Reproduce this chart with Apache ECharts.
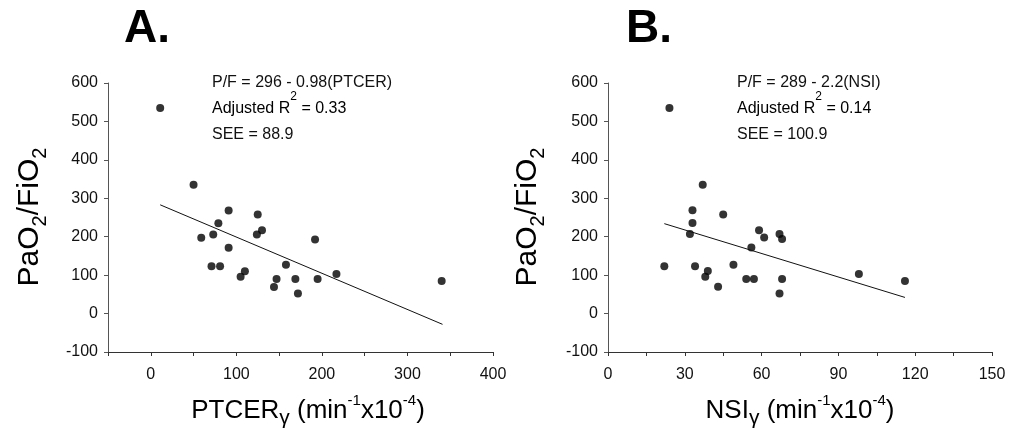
<!DOCTYPE html>
<html>
<head>
<meta charset="utf-8">
<script src="https://cdn.jsdelivr.net/npm/echarts@6/dist/echarts.min.js"></script>
<style>
html,body{margin:0;padding:0;background:#fff;}
#c{width:1018px;height:435px;}
</style>
</head>
<body>
<div id="c"></div>
<script>
// Panel A: PTCER gamma vs PaO2/FiO2
const ptcerX = [11, 50, 59, 73, 79, 91, 91, 71, 81, 105, 110, 125, 124, 130, 158, 144, 147, 169, 172, 192, 195, 217, 340];
const ptcerY = [535, 335, 197, 206, 235, 268, 171, 123, 123, 96, 110, 258, 206, 217, 127, 69, 90, 90, 52, 193, 90, 103, 85];
const fitA = [[11, 283], [341, -28]];
// Panel B: NSI gamma vs PaO2/FiO2
const nsiX = [24, 37, 33, 33, 32, 45, 22, 34, 39, 38, 43, 49, 56, 54, 57, 59, 61, 67, 68, 68, 67, 98, 116];
const nsiY = [535, 335, 269, 236, 207, 258, 123, 123, 111, 96, 70, 127, 172, 90, 90, 217, 198, 207, 194, 90, 52, 103, 85];
const fitB = [[22, 234], [116, 42]];
// Axis settings / tick labels
const yTicks = { min: -100, max: 600, interval: 100 };
const xTicksA = { min: -50, max: 400, interval: 50, labelStep: 100 };
const xTicksB = { min: 0, max: 150, interval: 15, labelStep: 30 };
const annA = ['P/F = 296 - 0.98(PTCER)', 'Adjusted R', '2', ' = 0.33', 'SEE = 88.9'];
const annB = ['P/F = 289 - 2.2(NSI)', 'Adjusted R', '2', ' = 0.14', 'SEE = 100.9'];

const FONT = 'Liberation Sans, Arial, sans-serif';
const AX = '#333';

function xAxis(gi, t) {
  return {
    type: 'value', gridIndex: gi, min: t.min, max: t.max, interval: t.interval,
    axisLine: { show: true, onZero: false, lineStyle: { color: AX, width: 1 } },
    axisTick: { show: true, inside: false, length: 4, lineStyle: { color: AX } },
    splitLine: { show: false },
    axisLabel: {
      show: true, margin: 15, color: '#111', fontFamily: FONT, fontSize: 16,
      showMinLabel: true, showMaxLabel: true,
      formatter: v => (Math.round(v) % t.labelStep === 0 ? String(Math.round(v)) : '')
    }
  };
}
function yAxis(gi) {
  return {
    type: 'value', gridIndex: gi, min: yTicks.min, max: yTicks.max, interval: yTicks.interval,
    axisLine: { show: true, onZero: false, lineStyle: { color: '#555', width: 1 } },
    axisTick: { show: true, inside: false, length: 4, lineStyle: { color: '#555' } },
    splitLine: { show: false },
    axisLabel: { show: true, margin: 10, color: '#111', fontFamily: FONT, fontSize: 16 }
  };
}
function pts(xs, ys) { return xs.map((x, i) => [x, ys[i]]); }

const rich = {
  t: { fontFamily: FONT, fontSize: 16, color: '#111', lineHeight: 36 },
  sp: { fontFamily: FONT, fontSize: 16, color: '#111', lineHeight: 36, width: 4 },
  sup: { fontFamily: FONT, fontSize: 12, color: '#111', lineHeight: 12, verticalAlign: 'top' }
};
function annot(x, a) {
  return [
    { type: 'text', x: x, y: 83, style: { text: a[0], fontFamily: FONT, fontSize: 16, fill: '#111', align: 'left', verticalAlign: 'middle' } },
    { type: 'text', x: x, y: 109, style: { text: '{t|' + a[1] + '}{sup|' + a[2] + '}{t|' + a[3] + '}', rich: rich, align: 'left', verticalAlign: 'middle' } },
    { type: 'text', x: x, y: 135, style: { text: a[4], fontFamily: FONT, fontSize: 16, fill: '#111', align: 'left', verticalAlign: 'middle' } }
  ];
}
const yTitleRich = {
  a: { fontFamily: FONT, fontSize: 30, color: '#111', lineHeight: 40 },
  s: { fontFamily: FONT, fontSize: 20, color: '#111', lineHeight: 20, verticalAlign: 'bottom' }
};
const xTitleRich = {
  a: { fontFamily: FONT, fontSize: 26, color: '#111', lineHeight: 36 },
  g: { fontFamily: FONT, fontSize: 21, color: '#111', lineHeight: 31, verticalAlign: 'bottom' },
  p: { fontFamily: FONT, fontSize: 15, color: '#111', lineHeight: 15, verticalAlign: 'top' }
};
function yTitle(x) {
  return { type: 'text', x: x, y: 217, rotation: Math.PI / 2,
    style: { text: '{a|PaO}{s|2}{a|/FiO}{s|2}', rich: yTitleRich, align: 'center', verticalAlign: 'middle' } };
}
function xTitle(x, name) {
  return { type: 'text', x: x, y: 411,
    style: { text: '{a|' + name + '}{g|γ}{a| (min}{p|-1}{a|x10}{p|-4}{a|)}', rich: xTitleRich, align: 'center', verticalAlign: 'middle' } };
}

const chart = echarts.init(document.getElementById('c'), null, { renderer: 'canvas' });
chart.setOption({
  backgroundColor: '#fff',
  animation: false,
  grid: [
    { left: 108, top: 83, width: 385, height: 269, containLabel: false },
    { left: 608, top: 83, width: 384, height: 269, containLabel: false }
  ],
  xAxis: [xAxis(0, xTicksA), xAxis(1, xTicksB)],
  yAxis: [yAxis(0), yAxis(1)],
  series: [
    { type: 'scatter', xAxisIndex: 0, yAxisIndex: 0, data: pts(ptcerX, ptcerY), symbol: 'circle', symbolSize: 8, itemStyle: { color: '#000' } },
    { type: 'line', xAxisIndex: 0, yAxisIndex: 0, data: fitA, showSymbol: false, symbol: 'none', lineStyle: { color: '#111', width: 1 } },
    { type: 'scatter', xAxisIndex: 1, yAxisIndex: 1, data: pts(nsiX, nsiY), symbol: 'circle', symbolSize: 8, itemStyle: { color: '#000' } },
    { type: 'line', xAxisIndex: 1, yAxisIndex: 1, data: fitB, showSymbol: false, symbol: 'none', lineStyle: { color: '#111', width: 1 } }
  ],
  graphic: [
    { type: 'text', left: 124, top: 6, style: { text: 'A.', fontFamily: FONT, fontSize: 46, fontWeight: 'bold', fill: '#000' } },
    { type: 'text', left: 626, top: 6, style: { text: 'B.', fontFamily: FONT, fontSize: 46, fontWeight: 'bold', fill: '#000' } },
    yTitle(30), yTitle(528),
    xTitle(308, 'PTCER'), xTitle(800, 'NSI')
  ].concat(annot(212, annA), annot(737, annB))
});
</script>
</body>
</html>
